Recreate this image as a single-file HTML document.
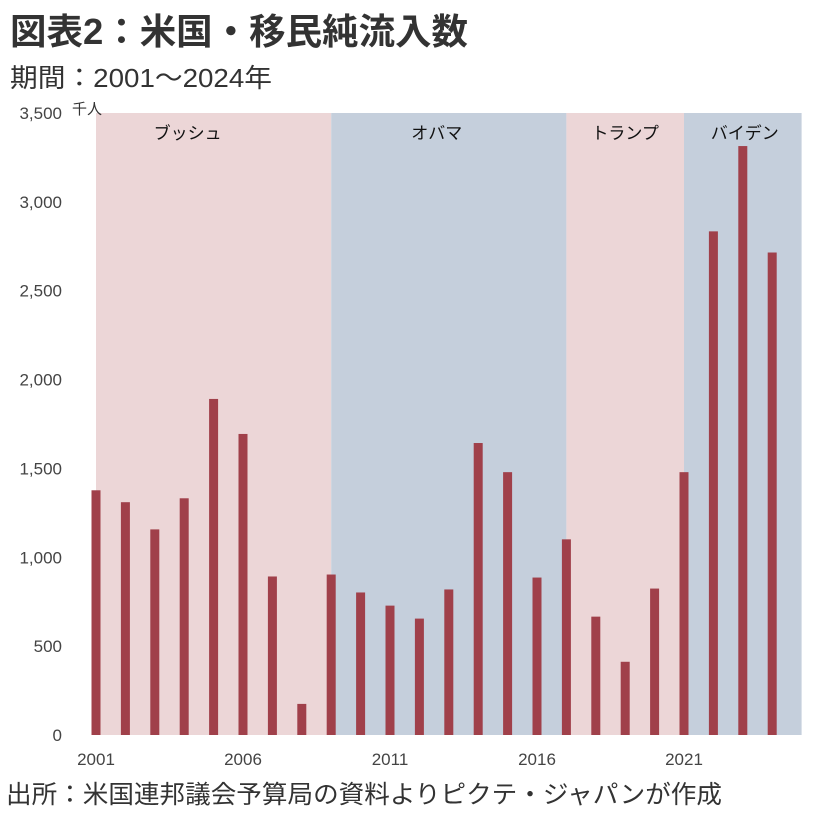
<!DOCTYPE html>
<html><head><meta charset="utf-8"><style>
body{margin:0;background:#fff;width:814px;height:811px;overflow:hidden;font-family:"Liberation Sans","Noto Sans CJK JP",sans-serif;}
</style></head><body>
<svg width="814" height="811" xmlns="http://www.w3.org/2000/svg" font-family="Liberation Sans, Noto Sans CJK JP, sans-serif">
<text x="10" y="44" font-size="36" font-weight="bold" fill="#333" textLength="458" lengthAdjust="spacingAndGlyphs">図表2：米国・移民純流入数</text>
<text x="10" y="87" font-size="26" fill="#333" textLength="262" lengthAdjust="spacingAndGlyphs">期間：2001～2024年</text>
<g id="bg"></g>
<g id="yt"></g>
<g id="bars"></g>
<g id="xt"></g>
<text x="72" y="114" font-size="15" fill="#333">千人</text>
<text x="6" y="803" font-size="25" fill="#333" textLength="716" lengthAdjust="spacingAndGlyphs">出所：米国連邦議会予算局の資料よりピクテ・ジャパンが作成</text>
</svg>
<script>
const years=[2001,2002,2003,2004,2005,2006,2007,2008,2009,2010,2011,2012,2013,2014,2015,2016,2017,2018,2019,2020,2021,2022,2023,2024];
const values=[1377,1310,1157,1332,1891,1694,892,175,903,802,728,655,819,1643,1479,886,1101,666,412,824,1479,2834,3314,2715];
const yTicks=[0,500,1000,1500,2000,2500,3000,3500];
const xTickYears=[2001,2006,2011,2016,2021];
const eras=["ブッシュ","オバマ","トランプ","バイデン"];
const eraStart=[2001,2009,2017,2021];
const eraEnd=[2009,2017,2021,2025];
const eraColor=["#ecd6d7","#c5cfdc","#ecd6d7","#c5cfdc"];
const eraLabelShift=[-26,-12,0,2];
const NS="http://www.w3.org/2000/svg";
const y0=735,y1=113,vmax=3500;
const ys=v=>y0-(v/vmax)*(y0-y1);
const xs=yr=>96+(yr-2001)*29.4;
function mk(t,a,p){const e=document.createElementNS(NS,t);for(const k in a)e.setAttribute(k,a[k]);document.getElementById(p).appendChild(e);return e;}
eras.forEach((n,i)=>{
 const r=mk('rect',{x:xs(eraStart[i]),y:y1,width:xs(eraEnd[i])-xs(eraStart[i]),height:y0-y1,fill:eraColor[i]},'bg');
 
 
 const t=mk('text',{x:(xs(eraStart[i])+xs(eraEnd[i]))/2+eraLabelShift[i],y:139,'font-size':17,'text-anchor':'middle',fill:'#111'},'bg');
 t.textContent=n;
 
 
});
yTicks.forEach(v=>{
 const t=mk('text',{x:62,y:ys(v)+6,'font-size':17,'text-anchor':'end',fill:'#444'},'yt');
 t.textContent=v.toLocaleString('en-US');
 
 
});
years.forEach((yr,i)=>{
 const r=mk('rect',{x:xs(yr)-4.5,y:ys(values[i]),width:9,height:y0-ys(values[i]),fill:'#a0404a'},'bars');
 
 
});
xTickYears.forEach(yr=>{
 const t=mk('text',{x:xs(yr),y:765,'font-size':17,'text-anchor':'middle',fill:'#444'},'xt');
 t.textContent=yr;
 
 
});
</script>
</body></html>
